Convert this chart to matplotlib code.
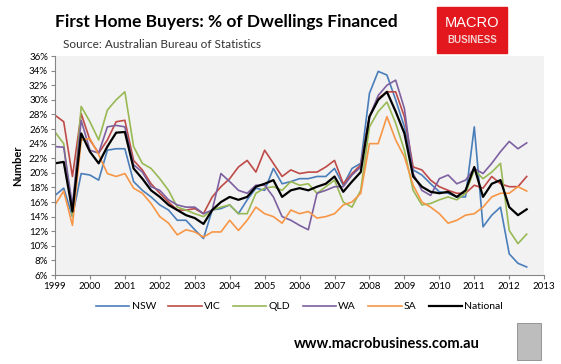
import numpy as np
import matplotlib
matplotlib.use("Agg")
import matplotlib.pyplot as plt
from matplotlib.patches import Rectangle

plt.rcParams["font.family"] = ["Lato", "DejaVu Sans"]

# quarterly readings, 1999.0 .. 2012.5
dates = [1999 + q * 0.25 for q in range(55)]

nsw = [16.9, 17.9, 14.0, 19.9, 19.7, 19.0, 23.1, 23.3,
       23.3, 18.8, 17.6, 16.7, 15.6, 14.9, 13.5, 13.5,
       12.2, 11.0, 14.9, 15.1, 15.6, 14.4, 16.3, 17.9,
       17.6, 20.6, 18.5, 18.8, 19.2, 19.2, 19.5, 19.5,
       20.6, 18.3, 20.6, 21.3, 30.9, 33.9, 33.4, 30.0,
       26.3, 20.4, 19.7, 18.5, 17.4, 17.2, 16.7, 16.7,
       26.3, 12.6, 14.2, 15.3, 8.9, 7.6, 7.1]
vic = [27.9, 27.0, 19.5, 28.1, 24.5, 22.7, 24.5, 27.0,
       27.2, 21.7, 20.4, 18.5, 17.2, 16.0, 14.9, 14.9,
       15.1, 14.4, 16.7, 18.1, 19.2, 20.8, 21.7, 20.1,
       23.1, 21.3, 19.5, 20.4, 19.9, 20.1, 20.1, 20.8,
       21.7, 18.5, 19.9, 21.1, 27.7, 30.2, 31.1, 31.1,
       27.7, 20.8, 20.4, 19.0, 18.1, 17.6, 17.2, 17.2,
       18.3, 17.9, 19.5, 18.5, 18.1, 18.1, 19.5]
qld = [25.6, 24.0, 14.0, 29.1, 27.0, 24.5, 28.6, 30.0,
       31.1, 23.6, 21.3, 20.6, 19.2, 17.6, 15.3, 14.9,
       14.4, 14.0, 14.9, 15.3, 15.6, 14.4, 14.4, 17.2,
       17.9, 18.1, 17.6, 18.8, 18.3, 18.5, 17.2, 18.1,
       19.0, 16.0, 15.3, 17.6, 26.3, 28.4, 29.7, 26.8,
       23.1, 17.6, 15.6, 15.8, 16.3, 16.7, 16.3, 17.2,
       20.4, 19.2, 20.1, 21.3, 12.1, 10.3, 11.6]
wa = [23.6, 23.5, 15.5, 27.2, 23.1, 22.7, 26.3, 26.5,
      26.3, 21.1, 20.1, 18.1, 17.6, 16.3, 15.6, 15.3,
      15.3, 14.4, 14.9, 19.9, 18.8, 17.6, 17.2, 18.3,
      18.3, 16.7, 14.0, 13.5, 12.8, 12.2, 17.2, 17.6,
      18.1, 18.1, 19.7, 20.8, 27.7, 30.6, 32.0, 32.7,
      28.8, 19.9, 17.6, 16.9, 19.2, 19.7, 18.5, 19.0,
      20.6, 19.9, 21.3, 22.9, 24.3, 23.3, 24.1]
sa = [15.6, 17.5, 12.8, 24.5, 24.7, 22.5, 19.9, 19.5,
      19.9, 17.9, 17.2, 15.8, 14.0, 13.1, 11.5, 12.2,
      11.9, 11.2, 11.9, 11.9, 13.5, 12.1, 13.5, 15.3,
      14.4, 14.0, 13.1, 14.9, 14.4, 14.7, 13.8, 14.0,
      14.4, 15.6, 16.0, 17.2, 24.0, 24.0, 27.7, 24.5,
      22.2, 18.3, 16.0, 15.3, 14.4, 13.1, 13.5, 14.2,
      14.4, 15.3, 16.7, 17.2, 17.2, 18.1, 17.5]
national = [21.3, 21.5, 14.7, 25.4, 22.9, 21.3, 23.6, 25.5,
            25.6, 20.6, 19.2, 17.6, 16.7, 15.6, 14.9, 14.2,
            13.8, 13.0, 14.9, 16.0, 16.7, 16.3, 16.7, 18.1,
            18.5, 19.0, 16.7, 17.6, 17.9, 17.6, 18.1, 18.5,
            19.5, 17.4, 18.8, 20.1, 27.7, 30.0, 31.1, 28.4,
            25.4, 19.5, 18.1, 17.4, 17.2, 17.4, 16.7, 17.6,
            20.8, 16.7, 18.5, 19.0, 15.3, 14.2, 15.0]

series = [
    ("NSW", nsw, "#4A7EBB", 1.2),
    ("VIC", vic, "#BE4B48", 1.2),
    ("QLD", qld, "#98B954", 1.2),
    ("WA", wa, "#7D60A0", 1.2),
    ("SA", sa, "#F79646", 1.2),
    ("National", national, "black", 1.6),
]

years = list(range(1999, 2014))
yticks = list(range(6, 37, 2))

fig = plt.figure(figsize=(5.61, 3.64), dpi=100)
ax = fig.add_axes([0.098, 0.2445, 0.872, 0.6015])
ax.set_facecolor("#F2F2F2")

for name, vals, color, lw in series:
    ax.plot(dates, vals, color=color, lw=lw, label=name)

ax.set_xlim(1999, 2013)
ax.set_ylim(6, 36)
ax.set_xticks(years)
ax.set_xticklabels([str(y) for y in years], fontsize=7)
ax.set_yticks(yticks)
ax.set_yticklabels([f"{v}%" for v in yticks], fontsize=7)
ax.tick_params(axis="both", length=3, color="#868686", pad=2)
for side in ["top", "right"]:
    ax.spines[side].set_visible(False)
for side in ["left", "bottom"]:
    ax.spines[side].set_color("#868686")
ax.set_ylabel("Number", fontsize=8, fontweight="bold", labelpad=4)

ax.legend(loc="upper center", bbox_to_anchor=(0.5, -0.08), ncol=6, frameon=False,
          fontsize=7.5, handlelength=3.2, handletextpad=0.2, columnspacing=1.2)

fig.text(0.098, 0.94, "First Home Buyers: % of Dwellings Financed",
         fontsize=12.5, fontweight="bold", va="center")
fig.text(0.113, 0.877, "Source: Australian Bureau of Statistics",
         fontsize=8.5, color="#333333", va="center")

# logo box
fig.patches.append(Rectangle((437 / 561, 1 - 53 / 364), 70 / 561, 46 / 364,
                             transform=fig.transFigure, color="#E3181E"))
fig.text(472 / 561, 1 - 23 / 364, "MACRO", color="white", fontsize=10.5,
         ha="center", va="center", family="Liberation Sans")
fig.text(472 / 561, 1 - 40 / 364, "BUSINESS", color="#F4D0D0", fontsize=7,
         ha="center", va="center", family="Liberation Sans", fontweight="bold")

fig.text(0.689, 0.055, "www.macrobusiness.com.au", fontsize=10.5, fontweight="bold",
         ha="center", va="center")
fig.patches.append(Rectangle((517 / 561, 1 - 360 / 364), 24 / 561, 37 / 364,
                             transform=fig.transFigure, facecolor="#BDBDBD",
                             edgecolor="#8A8A8A", lw=0.6))

fig.savefig("out.png", dpi=100)
